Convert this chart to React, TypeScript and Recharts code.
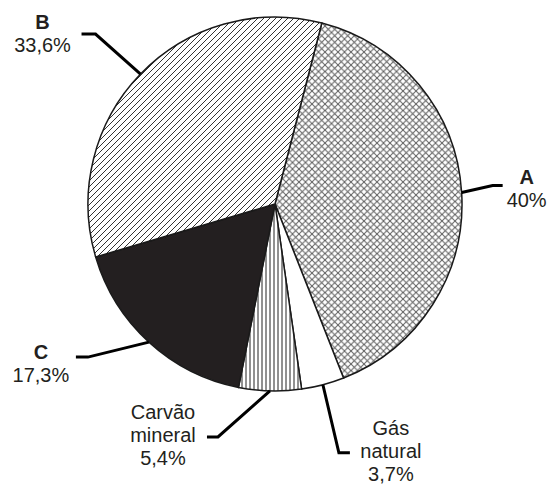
import { PieChart, Pie, Cell } from "recharts";

// fontes de energia (%), no sentido horário a partir do topo
const SOURCES = ["A", "Gás natural", "Carvão mineral", "C", "B"];
const SHARES = [40, 3.7, 5.4, 17.3, 33.6];
const LABEL_LINES = [
  ["A", "40%"],
  ["Gás", "natural", "3,7%"],
  ["Carvão", "mineral", "5,4%"],
  ["C", "17,3%"],
  ["B", "33,6%"],
];

const FILLS = [
  "url(#cross)",
  "#ffffff",
  "url(#vlines)",
  "#231f20",
  "url(#diag)",
];

// leader line: elbow offset from the rim point, then a short horizontal tail
const LEADERS: Record<string, { elbow: [number, number]; tail: number; tx: number; ty: number; bold: boolean }> = {
  A: { elbow: [31, -7], tail: 10, tx: 24, ty: -2, bold: true },
  "Gás natural": { elbow: [16, 68], tail: 11, tx: 41, ty: -18, bold: false },
  "Carvão mineral": { elbow: [-52, 46], tail: -11, tx: -44, ty: -18, bold: false },
  C: { elbow: [-61, 15], tail: -12, tx: -35, ty: 2, bold: true },
  B: { elbow: [-45, -40], tail: -14, tx: -39, ty: -5, bold: true },
};

const data = SOURCES.map((name, i) => ({
  name,
  value: SHARES[i],
  lines: LABEL_LINES[i],
}));

const RAD = Math.PI / 180;

function renderLabel(props: any) {
  const { cx, cy, midAngle, outerRadius, name, payload } = props;
  const cfg = LEADERS[name];
  const x0 = cx + outerRadius * Math.cos(-midAngle * RAD);
  const y0 = cy + outerRadius * Math.sin(-midAngle * RAD);
  const x1 = x0 + cfg.elbow[0];
  const y1 = y0 + cfg.elbow[1];
  const x2 = x1 + cfg.tail;
  const lines: string[] = payload.lines || props.lines;
  return (
    <g>
      <polyline
        points={`${x0},${y0} ${x1},${y1} ${x2},${y1}`}
        fill="none"
        stroke="#000"
        strokeWidth={3}
      />
      <text
        x={x2 + cfg.tx}
        y={y1 + cfg.ty}
        textAnchor="middle"
        fontSize={20}
        fill="#231f20"
      >
        {lines.map((t, k) => (
          <tspan
            key={k}
            x={x2 + cfg.tx}
            dy={k === 0 ? 0 : 23}
            fontWeight={k === 0 && cfg.bold ? 700 : 400}
          >
            {t}
          </tspan>
        ))}
      </text>
    </g>
  );
}

export default function App() {
  return (
    <div style={{ fontFamily: "'Liberation Sans', Arial, sans-serif" }}>
      <style>{`body{margin:0}`}</style>
      <PieChart
        width={549}
        height={488}
        margin={{ top: 0, right: 0, bottom: 0, left: 0 }}
        style={{ fontFamily: "'Liberation Sans', Arial, sans-serif" }}
      >
        <defs>
          <pattern id="cross" patternUnits="userSpaceOnUse" width={6.5} height={6.5}>
            <rect width={6.5} height={6.5} fill="#fff" />
            <path d="M0,0 L6.5,6.5 M6.5,0 L0,6.5" stroke="#5e5e5e" strokeWidth={1} />
          </pattern>
          <pattern id="diag" patternUnits="userSpaceOnUse" width={6} height={6}>
            <rect width={6} height={6} fill="#fff" />
            <path d="M-1,1 L1,-1 M0,6 L6,0 M5,7 L7,5" stroke="#333" strokeWidth={1} />
          </pattern>
          <pattern id="vlines" patternUnits="userSpaceOnUse" width={4} height={4}>
            <rect width={4} height={4} fill="#fff" />
            <path d="M2,0 L2,4" stroke="#222" strokeWidth={1} />
          </pattern>
        </defs>
        <Pie
          data={data}
          dataKey="value"
          nameKey="name"
          cx={275}
          cy={204}
          outerRadius={187}
          startAngle={75.5}
          endAngle={-284.5}
          stroke="#1a1a1a"
          strokeWidth={1.5}
          label={renderLabel}
          labelLine={false}
          isAnimationActive={false}
        >
          {data.map((d, i) => (
            <Cell key={d.name} fill={FILLS[i]} />
          ))}
        </Pie>
      </PieChart>
    </div>
  );
}
